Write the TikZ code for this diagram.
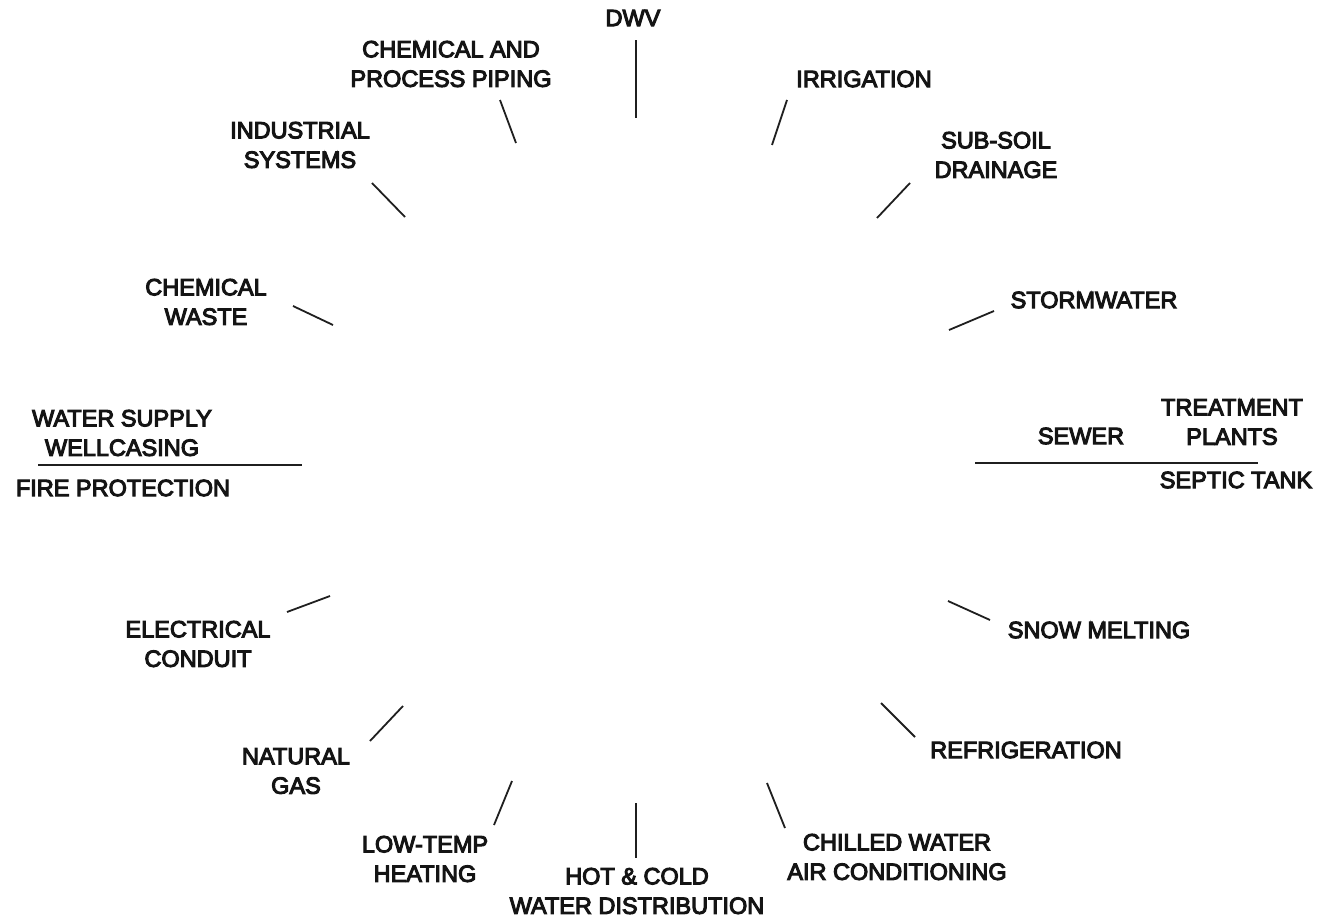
\documentclass[tikz,border=0pt]{standalone}
\usepackage{fontspec}
\newfontfamily\lblfont{Liberation Sans}[FakeBold=4.5]
\begin{document}
\begin{tikzpicture}[x=1pt,y=-1pt,
  lbl/.style={font=\lblfont\fontsize{23.5}{29.5}\selectfont, align=center, inner sep=0pt, text=black!92},
  tick/.style={line width=1.8pt, draw=black!88}]
\useasboundingbox (0,0) rectangle (1334,918);
% labels
\node[lbl] (dwv) at (633,18) {DWV};
\node[lbl] (chemproc) at (451,64) {CHEMICAL AND\\PROCESS PIPING};
\node[lbl] (irr) at (864,79) {IRRIGATION};
\node[lbl] (ind) at (300,145) {INDUSTRIAL\\SYSTEMS};
\node[lbl] (subsoil) at (996,155) {SUB-SOIL\\DRAINAGE};
\node[lbl] (chemwaste) at (206,302) {CHEMICAL\\WASTE};
\node[lbl] (storm) at (1094,300) {STORMWATER};
\node[lbl] (water) at (122,433) {WATER SUPPLY\\WELLCASING};
\node[lbl] (fire) at (123,488) {FIRE PROTECTION};
\node[lbl] (sewer) at (1081,436) {SEWER};
\node[lbl] (treat) at (1232,422) {TREATMENT\\PLANTS};
\node[lbl] (septic) at (1236,480) {SEPTIC TANK};
\node[lbl] (elec) at (198,644) {ELECTRICAL\\CONDUIT};
\node[lbl] (snow) at (1099,630) {SNOW MELTING};
\node[lbl] (gas) at (296,771) {NATURAL\\GAS};
\node[lbl] (refr) at (1026,750) {REFRIGERATION};
\node[lbl] (lowtemp) at (425,859) {LOW-TEMP\\HEATING};
\node[lbl] (hotcold) at (637,891) {HOT \& COLD\\WATER DISTRIBUTION};
\node[lbl] (chilled) at (897,857) {CHILLED WATER\\AIR CONDITIONING};
% tick end points
\coordinate (dwvA) at (636,40);   \coordinate (dwvB) at (636,118);
\coordinate (cpA) at (500,100);   \coordinate (cpB) at (516,143);
\coordinate (irA) at (787,100);   \coordinate (irB) at (772,145);
\coordinate (inA) at (372,183);   \coordinate (inB) at (405,217);
\coordinate (ssA) at (910,183);   \coordinate (ssB) at (877,218);
\coordinate (cwA) at (293,306);   \coordinate (cwB) at (333,325);
\coordinate (stA) at (994,311);   \coordinate (stB) at (949,330);
\coordinate (wsA) at (38,465);    \coordinate (wsB) at (302,465);
\coordinate (swA) at (975,463);   \coordinate (swB) at (1258,463);
\coordinate (elA) at (330,596);   \coordinate (elB) at (287,612);
\coordinate (snA) at (948,601);   \coordinate (snB) at (990,620);
\coordinate (ngA) at (403,706);   \coordinate (ngB) at (370,741);
\coordinate (rfA) at (881,703);   \coordinate (rfB) at (915,737);
\coordinate (ltA) at (512,781);   \coordinate (ltB) at (494,825);
\coordinate (hcA) at (636,803);   \coordinate (hcB) at (636,858);
\coordinate (chA) at (767,783);   \coordinate (chB) at (785,828);
% ticks
\draw[tick] (dwvA) -- (dwvB);
\draw[tick] (cpA) -- (cpB);
\draw[tick] (irA) -- (irB);
\draw[tick] (inA) -- (inB);
\draw[tick] (ssA) -- (ssB);
\draw[tick] (cwA) -- (cwB);
\draw[tick] (stA) -- (stB);
\draw[tick] (wsA) -- (wsB);
\draw[tick] (swA) -- (swB);
\draw[tick] (elA) -- (elB);
\draw[tick] (snA) -- (snB);
\draw[tick] (ngA) -- (ngB);
\draw[tick] (rfA) -- (rfB);
\draw[tick] (ltA) -- (ltB);
\draw[tick] (hcA) -- (hcB);
\draw[tick] (chA) -- (chB);
\end{tikzpicture}
\end{document}
